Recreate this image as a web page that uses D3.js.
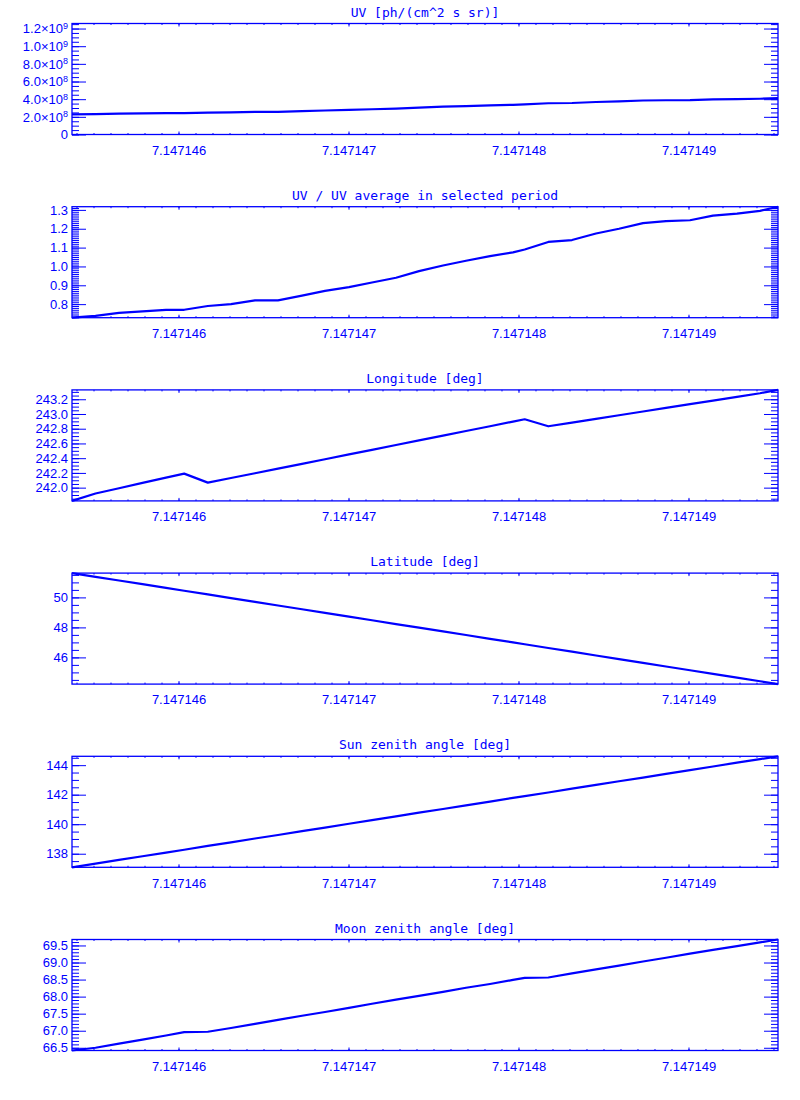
<!DOCTYPE html>
<html><head><meta charset="utf-8">
<script src="https://cdn.jsdelivr.net/npm/d3@7"></script>
<style>body{margin:0;background:#fff}</style>
</head><body><svg id="c" width="800" height="1100"></svg>
<script>
// ---- data ----
const times = [7.1471453735, 7.1471455118, 7.1471456500, 7.1471457882, 7.1471459265, 7.1471460335,
  7.1471461724, 7.1471463088, 7.1471464500, 7.1471465853, 7.1471467265, 7.1471468618, 7.1471470029,
  7.1471471382, 7.1471472794, 7.1471474147, 7.1471475559, 7.1471476912, 7.1471478324, 7.1471479676,
  7.1471480365, 7.1471481753, 7.1471483147, 7.1471484559, 7.1471485912, 7.1471487324, 7.1471488676,
  7.1471490088, 7.1471491441, 7.1471492853, 7.1471494206, 7.1471495265];
const uv = [2.28e8, 2.31e8, 2.36e8, 2.39e8, 2.41e8, 2.41e8, 2.47e8, 2.50e8, 2.57e8, 2.57e8, 2.64e8, 2.72e8,
  2.79e8, 2.86e8, 2.94e8, 3.05e8, 3.15e8, 3.22e8, 3.30e8, 3.36e8, 3.41e8, 3.54e8, 3.57e8, 3.68e8, 3.76e8,
  3.85e8, 3.88e8, 3.90e8, 3.98e8, 4.01e8, 4.05e8, 4.12e8];
const uvRatio = [0.728, 0.738, 0.754, 0.762, 0.770, 0.770, 0.790, 0.800, 0.820, 0.820, 0.845, 0.870,
  0.890, 0.915, 0.940, 0.975, 1.005, 1.030, 1.055, 1.075, 1.090, 1.130, 1.140, 1.175, 1.200, 1.230,
  1.240, 1.245, 1.270, 1.280, 1.295, 1.317];
const longitude = [241.82, 241.921, 241.992, 242.064, 242.135, 242.19, 242.068, 242.131, 242.196, 242.258,
  242.323, 242.386, 242.451, 242.513, 242.579, 242.641, 242.706, 242.769, 242.834, 242.896, 242.928,
  242.833, 242.883, 242.934, 242.983, 243.034, 243.083, 243.133, 243.182, 243.233, 243.282, 243.327];
const latitude = [51.62, 51.374, 51.127, 50.881, 50.635, 50.444, 50.197, 49.954, 49.702, 49.461, 49.210,
  48.969, 48.717, 48.476, 48.224, 47.983, 47.732, 47.491, 47.239, 46.998, 46.876, 46.628, 46.380, 46.128,
  45.887, 45.636, 45.395, 45.143, 44.902, 44.651, 44.410, 44.22];
const sunZenith = [137.08, 137.33, 137.58, 137.83, 138.08, 138.27, 138.53, 138.77, 139.03, 139.27, 139.53,
  139.77, 140.03, 140.28, 140.53, 140.78, 141.03, 141.28, 141.53, 141.78, 141.90, 142.15, 142.41, 142.66,
  142.91, 143.16, 143.41, 143.66, 143.91, 144.17, 144.41, 144.60];
const moonZenith = [66.42, 66.50, 66.62, 66.74, 66.86, 66.96, 66.97, 67.08, 67.20, 67.32, 67.44, 67.55,
  67.67, 67.79, 67.91, 68.02, 68.14, 68.26, 68.37, 68.49, 68.55, 68.56, 68.68, 68.80, 68.91, 69.03,
  69.14, 69.26, 69.37, 69.48, 69.59, 69.675];

const xTicks = [7.147146, 7.147147, 7.147148, 7.147149];
const uvTicks = [0, 2e8, 4e8, 6e8, 8e8, 1e9, 1.2e9];
const uvTickLabels = [["0", ""], ["2.0×10", "8"], ["4.0×10", "8"], ["6.0×10", "8"], ["8.0×10", "8"], ["1.0×10", "9"], ["1.2×10", "9"]];
const ratioTicks = [0.8, 0.9, 1.0, 1.1, 1.2, 1.3];
const lonTicks = [242.0, 242.2, 242.4, 242.6, 242.8, 243.0, 243.2];
const latTicks = [46, 48, 50];
const sunTicks = [138, 140, 142, 144];
const moonTicks = [66.5, 67.0, 67.5, 68.0, 68.5, 69.0, 69.5];
const titles = ["UV [ph/(cm^2 s sr)]", "UV / UV average in selected period", "Longitude [deg]",
  "Latitude [deg]", "Sun zenith angle [deg]", "Moon zenith angle [deg]"];

// ---- layout / style ----
const color = "#0000ff";
const left = 72, right = 778, ph = 111;
const panels = [
  {values: uv, domain: [0, 1.257e9], ticks: uvTicks, minor: 5e7, fmt: null},
  {values: uvRatio, domain: null, ticks: ratioTicks, minor: 0.01, fmt: d3.format(".1f")},
  {values: longitude, domain: null, ticks: lonTicks, minor: 0.05, fmt: d3.format(".1f")},
  {values: latitude, domain: null, ticks: latTicks, minor: 0.5, fmt: d3.format("d")},
  {values: sunZenith, domain: null, ticks: sunTicks, minor: 0.5, fmt: d3.format("d")},
  {values: moonZenith, domain: null, ticks: moonTicks, minor: 0.1, fmt: d3.format(".1f")}
];

const svg = d3.select("#c");
const x = d3.scaleLinear().domain(d3.extent(times)).range([left, right]);
const xMinor = d3.range(7.1471454, 7.1471496, 0.0000001);

function styleAxis(g) {
  g.select(".domain").remove();
  g.selectAll("line").attr("stroke", color).attr("stroke-width", 1);
  g.selectAll("text").attr("fill", color).attr("font-family", "Liberation Sans, Arial, sans-serif").attr("font-size", 13);
}

panels.forEach((p, i) => {
  const top = 23.5 + i * 183.2, bottom = top + ph;
  const dom = p.domain || d3.extent(p.values);
  const y = d3.scaleLinear().domain(dom).range([bottom, top]);
  const g = svg.append("g");
  const yMinor = d3.range(Math.ceil(dom[0] / p.minor - 1e-6) * p.minor, dom[1], p.minor).filter(v => v >= dom[0] && v <= dom[1]);

  // y minor ticks
  g.append("g").attr("transform", `translate(${left},0)`).call(d3.axisLeft(y).tickValues(yMinor).tickSize(-7).tickFormat("")).call(styleAxis);
  g.append("g").attr("transform", `translate(${right},0)`).call(d3.axisRight(y).tickValues(yMinor).tickSize(-7).tickFormat("")).call(styleAxis);
  // y major ticks with labels
  const ya = g.append("g").attr("transform", `translate(${left},0)`)
    .call(d3.axisLeft(y).tickValues(p.ticks).tickSize(-14).tickPadding(4).tickFormat(p.fmt || (() => ""))).call(styleAxis);
  if (!p.fmt) {
    ya.selectAll("text").each(function(d, k) {
      const t = d3.select(this).text("");
      t.append("tspan").text(uvTickLabels[k][0]);
      if (uvTickLabels[k][1]) t.append("tspan").attr("font-size", 9).attr("dy", "-0.45em").text(uvTickLabels[k][1]);
    });
  }
  g.append("g").attr("transform", `translate(${right},0)`).call(d3.axisRight(y).tickValues(p.ticks).tickSize(-14).tickFormat("")).call(styleAxis);

  // x ticks
  const xMin = xMinor.filter(v => v >= x.domain()[0] && v <= x.domain()[1]);
  g.append("g").attr("transform", `translate(0,${bottom})`).call(d3.axisBottom(x).tickValues(xMin).tickSize(-1.5).tickFormat("")).call(styleAxis);
  g.append("g").attr("transform", `translate(0,${top})`).call(d3.axisTop(x).tickValues(xMin).tickSize(-1.5).tickFormat("")).call(styleAxis);
  g.append("g").attr("transform", `translate(0,${bottom})`).call(d3.axisBottom(x).tickValues(xTicks).tickSize(-3).tickPadding(11).tickFormat(d3.format(".6f"))).call(styleAxis);
  g.append("g").attr("transform", `translate(0,${top})`).call(d3.axisTop(x).tickValues(xTicks).tickSize(-3).tickFormat("")).call(styleAxis);

  // frame
  g.append("rect").attr("x", left).attr("y", top).attr("width", right - left).attr("height", ph)
    .attr("fill", "none").attr("stroke", color).attr("stroke-width", 1.3);

  // data line
  const line = d3.line().x((d, j) => x(times[j])).y(d => y(d));
  g.append("path").datum(p.values).attr("d", line).attr("fill", "none").attr("stroke", color)
    .attr("stroke-width", 2.2).attr("stroke-linejoin", "round");

  // title
  g.append("text").attr("x", (left + right) / 2).attr("y", top - 7).attr("text-anchor", "middle")
    .attr("fill", color).attr("font-family", "DejaVu Sans Mono, monospace").attr("font-size", 13)
    .text(titles[i]);
});
</script></body></html>
